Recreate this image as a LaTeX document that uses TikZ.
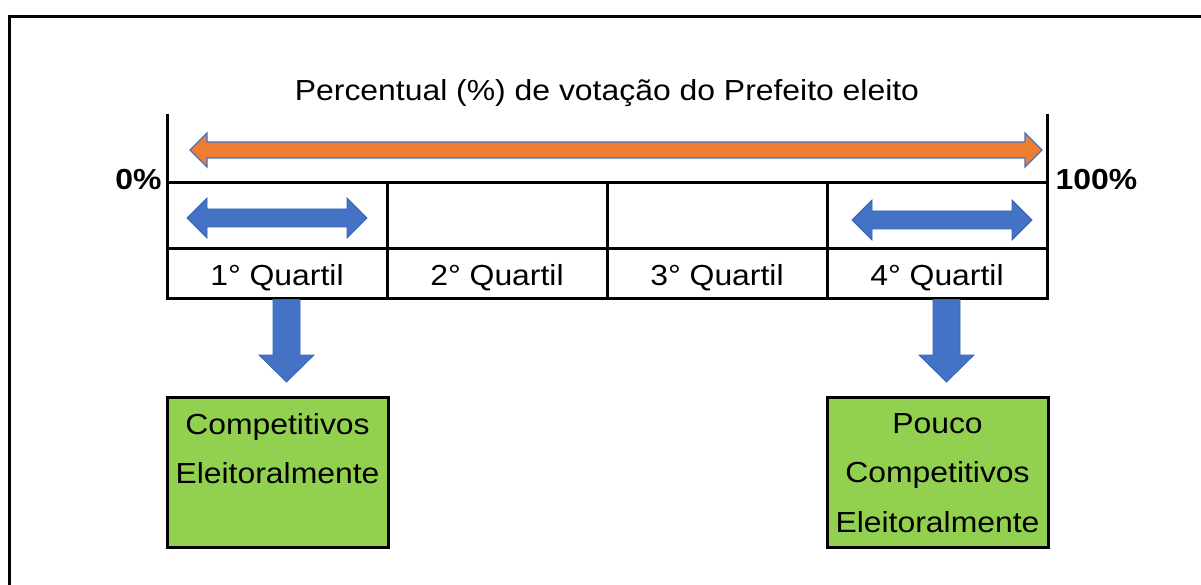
\documentclass[tikz,border=0pt]{standalone}
\usepackage{fontspec}
\setmainfont{Liberation Sans}[FakeStretch=1.10]
\usetikzlibrary{calc}
\definecolor{orangeA}{HTML}{ED7D31}
\definecolor{blueA}{HTML}{4472C4}
\definecolor{blueB}{HTML}{3A64B0}
\definecolor{greenA}{HTML}{92D050}
\newcommand\hdblarrow[6]{% style, x1, x2, y, shaft half, head half
  \draw[#1] (#2,#4) -- ({#2+#6},{#4-#6}) -- ({#2+#6},{#4-#5}) -- ({#3-#6},{#4-#5})
    -- ({#3-#6},{#4-#6}) -- (#3,#4) -- ({#3-#6},{#4+#6}) -- ({#3-#6},{#4+#5})
    -- ({#2+#6},{#4+#5}) -- ({#2+#6},{#4+#6}) -- cycle;}
\begin{document}
\begin{tikzpicture}[x=1pt,y=-1pt,
  font=\fontsize{29}{49.5}\selectfont,
  tline/.style={line width=3pt, black},
  cell/.style={draw, tline, minimum width=220pt, inner sep=0pt, outer sep=0pt},
  topcell/.style={cell, minimum height=66pt},
  qcell/.style={cell, minimum height=49pt, text height=24pt, text depth=1pt},
  greenbox/.style={draw, tline, fill=greenA, minimum width=221pt, minimum height=150pt, inner sep=0pt, outer sep=0pt},
  gtext/.style={anchor=north, align=center, inner sep=0pt},
  orangearrow/.style={fill=orangeA, draw=blueA, line width=1.3pt, line join=miter},
  bluearrow/.style={fill=blueA, draw=blueB, line width=0.8pt, line join=miter}]
\useasboundingbox (0,0) rectangle (1201,585);
\begin{scope}
  \clip (0,0) rectangle (1201,585);
  \draw[tline] (1220,17) -- (9.5,17) -- (9.5,600);
\end{scope}

% title
\node[anchor=base] (title) at (607,101) {Percentual (\%) de votação do Prefeito eleito};

% table
\node[topcell] (t1) at (277,216) {};
\node[topcell] (t2) at (497,216) {};
\node[topcell] (t3) at (717,216) {};
\node[topcell] (t4) at (937,216) {};
\node[qcell] (q1) at (277,273.5) {1° Quartil};
\node[qcell] (q2) at (497,273.5) {2° Quartil};
\node[qcell] (q3) at (717,273.5) {3° Quartil};
\node[qcell] (q4) at (937,273.5) {4° Quartil};

% end ticks
\coordinate (lt) at (167,114);
\coordinate (rt) at (1047,114);
\draw[tline] (lt) -- (t1.north west);
\draw[tline] (rt) -- (t4.north east);
\node[anchor=base east, font=\fontsize{29}{35}\selectfont\bfseries] (p0) at (165,190) {0\%};
\node[anchor=base west, font=\fontsize{29}{35}\selectfont\bfseries] (p100) at (1052,190) {100\%};

% horizontal arrows
\hdblarrow{orangearrow}{190}{1042}{150}{8}{17}
\hdblarrow{bluearrow}{187}{367}{218}{9}{20}
\hdblarrow{bluearrow}{852}{1032}{220}{9}{20}

% result boxes
\node[greenbox] (g1) at (277.5,472) {};
\node[greenbox] (g2) at (937.5,472) {};
\node[gtext] (g1t) at ($(g1.north)+(0,16)$) {Competitivos\\Eleitoralmente};
\node[gtext] (g2t) at ($(g2.north)+(0,16)$) {Pouco\\Competitivos\\Eleitoralmente};

% down arrows
\foreach \q/\g in {q1/g1, q4/g2}{
  \path let \p1 = (\q.south), \p2 = (\g.north) in
    coordinate (s) at ({\x1+9.5},{\y1}) coordinate (e) at ({\x1+9.5},{\y2+15});
  \draw[bluearrow] ($(s)+(-13.5,1.5)$) -- ($(e)+(-13.5,-27)$) -- ($(e)+(-27.5,-27)$)
    -- (e) -- ($(e)+(27.5,-27)$) -- ($(e)+(13.5,-27)$) -- ($(s)+(13.5,1.5)$) -- cycle;
}
\end{tikzpicture}
\end{document}
